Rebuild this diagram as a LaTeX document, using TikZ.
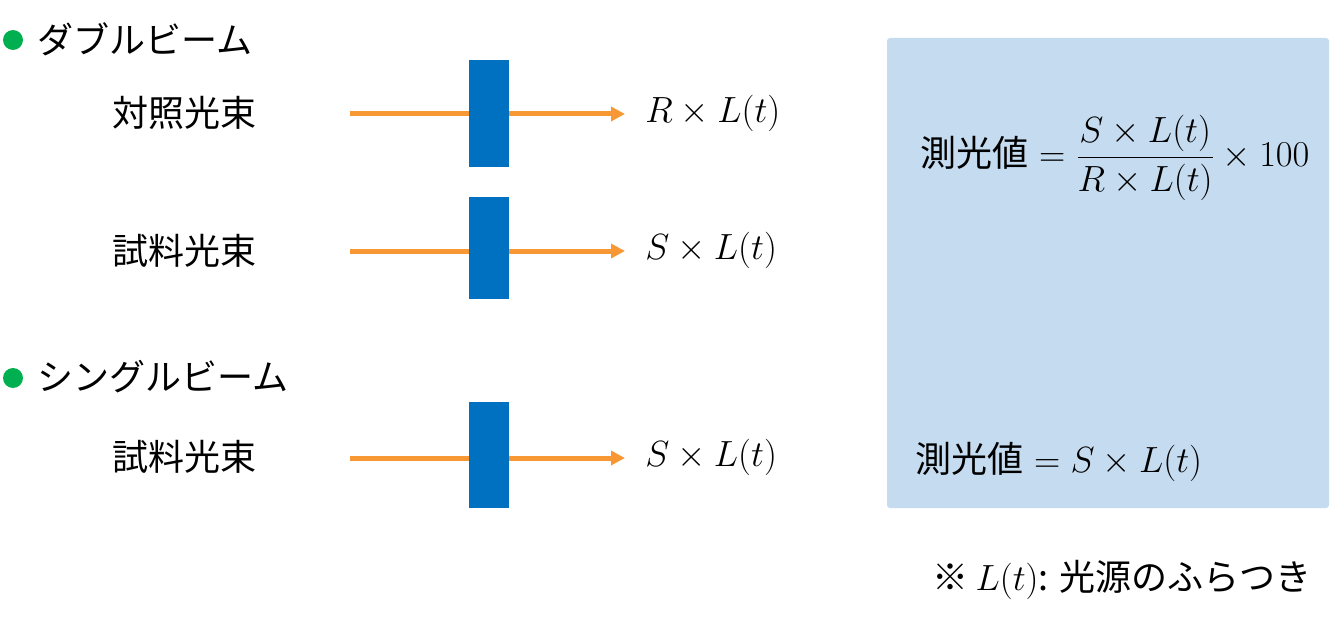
\documentclass[tikz,border=0pt]{standalone}
\usepackage{fontspec}
\setmainfont{Noto Sans CJK JP}
\usetikzlibrary{arrows.meta}

\definecolor{beam}{RGB}{247,152,52}
\definecolor{filterblue}{RGB}{0,112,192}
\definecolor{panelblue}{RGB}{197,220,240}
\definecolor{dotgreen}{RGB}{0,176,80}

\tikzset{
	beamline/.style={draw=beam, line width=0.1cm, -{Triangle[length=0.28cm, width=0.28cm]}},
	filter/.style={fill=filterblue, minimum width=0.8cm, inner sep=0pt},
	label/.style={anchor=west, inner sep=0pt},
}

\begin{document}
\begin{tikzpicture}[x=0.02cm, y=-0.02cm, font=\fontsize{20.5}{24}\selectfont]

		\useasboundingbox (0,0) rectangle (1334,628);

		% double beam
		\fill[dotgreen] (13,40) circle [radius=0.2cm];
		\node[label] (dbl) at (37,39) {ダブルビーム};

		\node[label] (refname) at (112,113) {対照光束};
		\coordinate (refin) at (350,114);
		\coordinate (refout) at (625,114);
		\node[label] (refval) at (645,113) {$R\times L(t)$};
		\draw[beamline] (refin) -- (refout);
		\node[filter, minimum height=2.14cm] (refbox) at (489,113.5) {};

		\node[label] (smpname) at (112,251) {試料光束};
		\coordinate (smpin) at (350,251);
		\coordinate (smpout) at (625,251);
		\node[label] (smpval) at (645,250) {$S\times L(t)$};
		\draw[beamline] (smpin) -- (smpout);
		\node[filter, minimum height=2.04cm] (smpbox) at (489,248) {};

		% single beam
		\fill[dotgreen] (13,378) circle [radius=0.2cm];
		\node[label] (sgl) at (37,377) {シングルビーム};

		\node[label] (onename) at (112,457) {試料光束};
		\coordinate (onein) at (350,458);
		\coordinate (oneout) at (625,458);
		\node[label] (oneval) at (645,457) {$S\times L(t)$};
		\draw[beamline] (onein) -- (oneout);
		\node[filter, minimum height=2.12cm] (onebox) at (489,455) {};

		% result panel
		\fill[panelblue, rounded corners=0.06cm] (887,38) rectangle (1329,508);
		\node[label] (dblres) at (920,158) {測光値\hspace{0.3em}$=\displaystyle\frac{S\times L(t)}{R\times L(t)}\times 100$};
		\node[label] (sglres) at (915,462) {測光値\hspace{0.3em}$= S\times L(t)$};

		\node[label] (note) at (932,580) {※\hspace{0.2em}$L(t)$: 光源のふらつき};

	\end{tikzpicture}
\end{document}
